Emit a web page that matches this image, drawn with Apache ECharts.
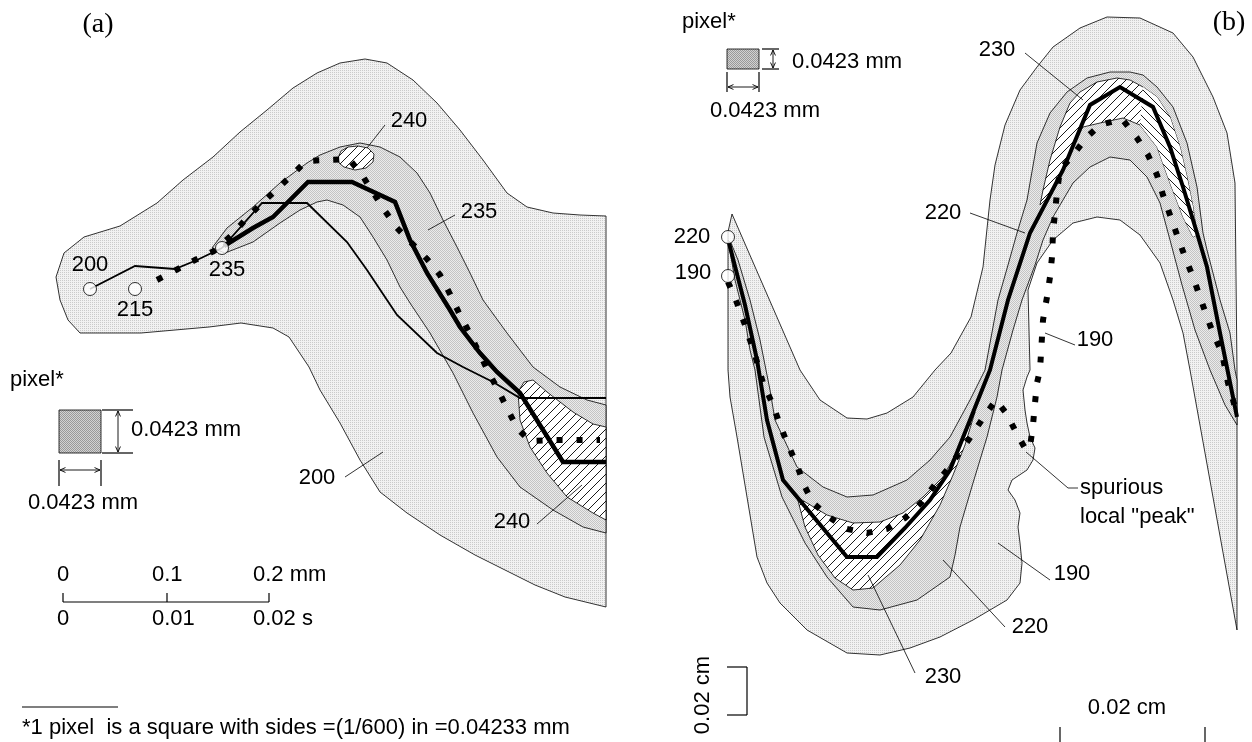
<!DOCTYPE html>
<html><head><meta charset="utf-8">
<script src="https://cdn.jsdelivr.net/npm/echarts@6/dist/echarts.min.js"></script>
<style>html,body{margin:0;padding:0;background:#fff}#c{width:1252px;height:742px}</style>
</head><body><div id="c"></div>
<script>
// ---------- panel (a) data ----------
const aRegion200 = [[56,277],[64,253],[84,237],[120,226],[157,203],[183,180],[213,157],[240,132],[267,110],[293,88],[317,73],[340,63],[365,59],[387,63],[413,80],[437,103],[460,130],[483,160],[507,193],[527,207],[553,213],[580,215],[606,216],[606,607],[565,597],[535,585],[505,570],[475,555],[440,535],[407,513],[380,492],[360,460],[340,423],[320,390],[309,367],[289,337],[273,328],[241,323],[209,327],[141,333],[80,333],[68,320],[60,300]];
const aRegion235 = [[212,248],[227,228],[253,207],[280,183],[307,163],[320,155],[340,147],[360,143],[380,147],[400,157],[417,173],[430,193],[443,220],[457,247],[470,273],[483,300],[507,333],[533,367],[560,387],[587,400],[606,405],[606,533],[583,527],[553,510],[520,487],[497,457],[473,413],[453,373],[430,333],[410,303],[400,287],[387,260],[373,237],[360,217],[343,205],[327,200],[317,202],[300,210],[280,223],[253,242],[225,253]];
const aRegion240Low = [[518,392],[524,382],[533,380],[547,392],[573,412],[593,424],[606,427],[606,520],[593,513],[567,497],[547,473],[530,447],[520,420]];
const aRegion240Top = [[338,158],[341,151],[348,147],[358,146],[368,148],[374,154],[373,162],[366,168],[355,170],[344,167],[339,163]];
const aPathThick = [[224,246],[253,228],[273,217],[308,182],[352,182],[395,202],[410,240],[427,273],[450,310],[460,327],[480,353],[497,372],[520,393],[563,462],[606,462]];
const aPathThin1 = [[90,289],[135,266],[175,269],[197,260],[222,248]];
const aPathThin2 = [[222,248],[262,203],[307,203],[347,242],[367,270],[387,300],[397,315],[437,353],[463,367],[493,382],[520,398],[606,398]];
const aPathDotted = [[157,280],[176,270],[195,260],[214,251],[232,235],[245,220],[260,205],[275,191],[291,176],[306,161],[327,160],[349,159],[362,175],[385,211],[397,228],[427,259],[440,275],[450,294],[459,313],[469,332],[488,371],[498,390],[507,408],[517,428],[530,441],[552,440],[573,440],[600,440]];
const aStartPoints = [[90,289],[135,289],[222,248]];

// ---------- panel (b) data ----------
const bRegion190 = [[732,214],[728,232],[728,300],[728,370],[730,397],[737,437],[747,497],[757,557],[767,583],[780,603],[807,630],[847,653],[880,655],[910,648],[940,637],[973,620],[1007,600],[1020,583],[1022,563],[1020,543],[1018,527],[1020,513],[1015,500],[1008,490],[1012,480],[1027,470],[1033,460],[1035,448],[1030,437],[1027,423],[1025,410],[1023,390],[1027,377],[1030,370],[1028,290],[1037,263],[1053,240],[1073,223],[1097,217],[1120,220],[1140,235],[1160,263],[1173,300],[1183,333],[1190,370],[1237,630],[1237,370],[1235,183],[1227,133],[1213,97],[1193,57],[1173,33],[1140,18],[1107,17],[1080,28],[1053,47],[1037,67],[1020,90],[1005,125],[995,165],[990,200],[983,267],[971,317],[951,353],[935,370],[913,397],[887,413],[867,419],[847,418],[820,400],[800,370]];
const bRegion220 = [[728,240],[735,280],[745,320],[750,350],[755,370],[764,437],[782,497],[805,543],[827,577],[853,607],[880,610],[917,600],[950,577],[955,555],[960,527],[973,483],[987,437],[997,397],[1002,370],[1013,330],[1022,300],[1035,265],[1043,240],[1053,217],[1073,183],[1090,167],[1110,157],[1130,160],[1147,177],[1160,203],[1170,240],[1182,285],[1195,330],[1210,370],[1225,405],[1237,425],[1237,380],[1235,370],[1230,333],[1220,300],[1207,250],[1203,233],[1197,187],[1187,143],[1173,107],[1157,87],[1143,75],[1130,72],[1110,72],[1087,78],[1067,92],[1050,113],[1037,143],[1027,200],[1017,233],[1008,265],[998,300],[985,370],[970,400],[950,437],[930,460],[907,480],[873,495],[847,497],[823,487],[797,467],[775,420],[770,390],[766,370],[760,340],[750,300],[738,260],[731,243]];
const bRegion230Top = [[1040,205],[1043,190],[1050,160],[1060,127],[1070,103],[1080,92],[1097,82],[1117,78],[1130,80],[1143,87],[1157,97],[1170,117],[1180,147],[1187,177],[1193,207],[1197,235],[1193,237],[1183,217],[1170,183],[1157,147],[1140,125],[1123,118],[1100,123],[1083,127],[1075,140],[1063,168],[1050,195]];
const bRegion230TopRight = [[1143,87],[1157,97],[1170,117],[1180,147],[1187,177],[1193,207],[1197,235],[1193,237],[1183,217],[1170,183],[1157,147],[1140,125]];
const bRegion230Low = [[797,497],[827,515],[853,523],[880,522],[903,513],[923,497],[943,477],[958,450],[968,428],[975,412],[965,445],[953,475],[940,505],[920,540],[900,565],[873,588],[853,590],[835,578],[818,555],[805,527]];
const bPathThick = [[729,243],[745,305],[757,360],[767,420],[783,480],[847,557],[877,557],[905,528],[930,500],[950,470],[970,420],[990,370],[1008,300],[1030,233],[1063,170],[1090,105],[1120,87],[1153,107],[1170,147],[1183,187],[1197,233],[1207,267],[1220,333],[1237,417]];
const bPathDotted = [[728,282],[737,303],[745,325],[755,355],[763,383],[773,405],[780,425],[788,445],[797,465],[804,485],[813,503],[829,517],[847,529],[867,533],[887,529],[905,518],[921,503],[933,487],[947,470],[960,452],[972,435],[983,418],[996,400],[1006,413],[1016,432],[1026,450],[1030,447],[1033,425],[1035,403],[1037,383],[1040,370],[1043,320],[1047,297],[1050,277],[1052,257],[1053,233],[1055,213],[1057,192],[1060,170],[1073,155],[1087,137],[1100,125],[1122,119],[1137,138],[1148,155],[1157,175],[1163,195],[1170,215],[1177,235],[1185,257],[1193,277],[1200,297],[1207,317],[1213,333],[1222,353],[1228,383],[1233,400],[1238,418]];
const bStartPoints = [[728,237],[728,276]];

// ---------- legend / scale items ----------
const pixelSquares = [[[59,410],[101,410],[101,453],[59,453]], [[727,49],[759,49],[759,69],[727,69]]];
const dimArrows = [[118,411,118,452],[60,470,100,470],[773,50,773,68],[728,87,758,87]];
const tickSegments = [[102,410,133,410],[102,453,133,453],[59,460,59,486],[101,460,101,486],
  [762,49,779,49],[762,69,779,69],[727,72,727,92],[759,72,759,92],
  [63,602,269,602],[63,593,63,602],[167,593,167,602],[269,593,269,602],
  [727,667,747,667],[747,667,747,715],[747,715,727,715],
  [1060,727,1060,742],[1205,727,1205,742],
  [22,707,118,707]];
const leaderSegments = [[385,125,367,148],[455,215,428,230],[345,477,383,452],[537,524,582,485],
  [1025,53,1083,100],[970,213,1025,233],[1045,333,1075,345],[1026,452,1068,488],[1068,488,1078,488],
  [1050,580,998,543],[1005,627,943,560],[915,673,868,575]];

// ---------- text ----------
const sansLabels = [
  ['200',90,265,'center'],['215',135,310,'center'],['235',227,270,'center'],
  ['240',409,121,'center'],['235',479,212,'center'],['200',317,478,'center'],['240',512,522,'center'],
  ['pixel*',10,380,'left'],['0.0423 mm',131,430,'left'],['0.0423 mm',28,503,'left'],
  ['0',63,575,'center'],['0.1',152,575,'left'],['0.2 mm',253,575,'left'],
  ['0',63,619,'center'],['0.01',152,619,'left'],['0.02 s',253,619,'left'],
  ['*1 pixel  is a square with sides =(1/600) in =0.04233 mm',22,728,'left'],
  ['pixel*',682,22,'left'],['0.0423 mm',792,62,'left'],['0.0423 mm',765,111,'center'],
  ['220',692,237,'center'],['190',693,273,'center'],
  ['230',997,50,'center'],['220',943,213,'center'],['190',1095,340,'center'],
  ['spurious',1080,488,'left'],['local "peak"',1080,517,'left'],
  ['190',1072,574,'center'],['220',1030,627,'center'],['230',943,677,'center'],
  ['0.02 cm',1127,708,'center'],['0.02 cm',703,695,'center',Math.PI/2]
];
const panelLabels = [['(a)',98,25,'center'],['(b)',1229,23,'center']];

// ---------- patterns ----------
function pattern(w,h,draw){const c=document.createElement('canvas');c.width=w;c.height=h;const g=c.getContext('2d');draw(g,w,h);return {image:c,repeat:'repeat'};}
const fillLight = pattern(2,2,(g)=>{g.fillStyle='#f2f2f2';g.fillRect(0,0,2,2);g.fillStyle='#cbcbcb';g.fillRect(0,0,1,1);});
const fillBand = pattern(2,2,(g)=>{g.fillStyle='#ebebeb';g.fillRect(0,0,2,2);g.fillStyle='#c4c4c4';g.fillRect(0,0,1,1);g.fillRect(1,1,1,1);});
const fillDark = pattern(2,2,(g)=>{g.fillStyle='#d2d2d2';g.fillRect(0,0,2,2);g.fillStyle='#999';g.fillRect(0,0,1,1);g.fillRect(1,1,1,1);});
function hatch(back){return pattern(9,9,(g,w,h)=>{g.fillStyle='#fff';g.fillRect(0,0,w,h);g.strokeStyle='#000';g.lineWidth=0.9;g.beginPath();
  if(!back){g.moveTo(-1,h+1);g.lineTo(w+1,-1);g.moveTo(-1,1);g.lineTo(1,-1);g.moveTo(w-1,h+1);g.lineTo(w+1,h-1);}
  else{g.moveTo(-1,-1);g.lineTo(w+1,h+1);g.moveTo(w-1,-1);g.lineTo(w+1,1);g.moveTo(-1,h-1);g.lineTo(1,h+1);}
  g.stroke();});}
const fillHatch = hatch(false), fillHatchBack = hatch(true);

const SANS = '"Liberation Sans", Arial, Helvetica, sans-serif';
const SERIF = '"Liberation Serif", "Times New Roman", serif';

function polygonSeries(pts, fill, z, noStroke){
  return {type:'custom', coordinateSystem:'cartesian2d', z, silent:true, data:[[0,0]],
    renderItem:(p,api)=>({type:'polygon', shape:{points:pts.map(q=>api.coord(q))},
      style:{fill:fill, stroke:noStroke?null:'#000', lineWidth:0.8}})};
}
function pathSeries(pts, width, dash, z){
  return {type:'line', data:pts, symbol:'none', z, silent:true, clip:false,
    lineStyle:{color:'#000', width, type:dash||'solid', cap:'butt', join:'miter'}};
}
function segSeries(segs, width, z){
  return {type:'custom', coordinateSystem:'cartesian2d', z, silent:true, data:segs,
    renderItem:(p,api)=>{const a=api.coord([api.value(0),api.value(1)]), b=api.coord([api.value(2),api.value(3)]);
      return {type:'line', shape:{x1:a[0],y1:a[1],x2:b[0],y2:b[1]}, style:{stroke:'#000', lineWidth:width}};}};
}
function arrowSeries(segs, z){
  return {type:'custom', coordinateSystem:'cartesian2d', z, silent:true, data:segs,
    renderItem:(p,api)=>{const a=api.coord([api.value(0),api.value(1)]), b=api.coord([api.value(2),api.value(3)]);
      const ang=Math.atan2(b[1]-a[1], b[0]-a[0]); const L=6, w=0.42;
      const head=(pt,d)=>[[pt[0]+L*Math.cos(d+w),pt[1]+L*Math.sin(d+w)],pt,[pt[0]+L*Math.cos(d-w),pt[1]+L*Math.sin(d-w)]];
      const st={stroke:'#000', fill:null, lineWidth:0.9};
      return {type:'group', children:[
        {type:'line', shape:{x1:a[0],y1:a[1],x2:b[0],y2:b[1]}, style:st},
        {type:'polyline', shape:{points:head(a,ang)}, style:st},
        {type:'polyline', shape:{points:head(b,ang+Math.PI)}, style:st}]};}};
}
function textSeries(items, size, family, z){
  return {type:'custom', coordinateSystem:'cartesian2d', z, silent:true,
    data: items.map((t,i)=>[t[1],t[2],i]),
    renderItem:(p,api)=>{const it=items[api.value(2)]; const c=api.coord([api.value(0),api.value(1)]);
      return {type:'text', x:c[0], y:c[1], rotation:it[4]||0,
        style:{text:it[0], fontSize:size, fontFamily:family, fill:'#000', align:it[3], verticalAlign:'middle'}};}};
}
function pointSeries(pts, z){
  return {type:'scatter', data:pts, symbol:'circle', symbolSize:13, z, silent:true, clip:false,
    itemStyle:{color:'#fff', borderColor:'#000', borderWidth:1}};
}

const chart = echarts.init(document.getElementById('c'), null, {renderer:'canvas'});
chart.setOption({
  animation:false,
  backgroundColor:'#fff',
  grid:{left:0, right:0, top:0, bottom:0},
  xAxis:{type:'value', min:0, max:1252, show:false},
  yAxis:{type:'value', min:0, max:742, inverse:true, show:false},
  series:[
    polygonSeries(aRegion200, fillLight, 1),
    polygonSeries(aRegion235, fillBand, 2),
    polygonSeries(aRegion240Low, fillHatch, 3),
    polygonSeries(aRegion240Top, fillHatch, 3),
    polygonSeries(bRegion190, fillLight, 1),
    polygonSeries(bRegion220, fillBand, 2),
    polygonSeries(bRegion230Top, fillHatch, 3),
    polygonSeries(bRegion230TopRight, fillHatchBack, 4, true),
    polygonSeries(bRegion230Low, fillHatch, 3),
    polygonSeries(pixelSquares[0], fillDark, 3),
    polygonSeries(pixelSquares[1], fillDark, 3),
    pathSeries(aPathThin1, 1.8, null, 5),
    pathSeries(aPathThin2, 1.8, null, 5),
    pathSeries(aPathThick, 4.5, null, 6),
    pathSeries(aPathDotted, 6, [6,14], 6),
    pathSeries(bPathThick, 4, null, 6),
    pathSeries(bPathDotted, 6, [6,14], 6),
    pointSeries(aStartPoints, 8),
    pointSeries(bStartPoints, 8),
    segSeries(tickSegments, 1.2, 7),
    segSeries(leaderSegments, 0.8, 7),
    arrowSeries(dimArrows, 7),
    textSeries(sansLabels, 22, SANS, 9),
    textSeries(panelLabels, 28, SERIF, 9)
  ]
});
</script></body></html>
